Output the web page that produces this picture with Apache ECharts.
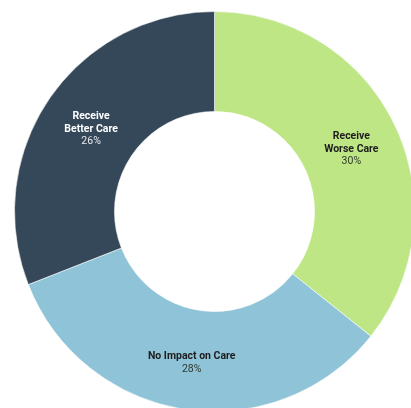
<!DOCTYPE html>
<html>
<head>
<meta charset="utf-8">
<script src="https://cdn.jsdelivr.net/npm/echarts@6/dist/echarts.min.js"></script>
<style>
  html, body { margin: 0; padding: 0; background: #ffffff; }
  #chart { width: 411px; height: 408px; }
</style>
</head>
<body>
<div id="chart"></div>
<script>
// Share of respondents by expected effect on their care
const categories = ['Receive\nWorse Care', 'No Impact on Care', 'Receive\nBetter Care'];
const shares = [30, 28, 26];
const sliceColors = ['#bee685', '#8fc4d8', '#354859'];
const labelDark = [true, true, false];
// small nudges of each label block inside its slice
const labelPadding = [[8, 2, 0, 0], [0, 0, 0, 0], [8, 0, 0, 6]];

const chart = echarts.init(document.getElementById('chart'), null, { renderer: 'canvas' });

const data = categories.map((name, i) => ({
  name: name,
  value: shares[i],
  itemStyle: { color: sliceColors[i] },
  label: {
    padding: labelPadding[i],
    rich: {
      n: { color: labelDark[i] ? '#1e1e1e' : '#ffffff', fontWeight: 'bold', fontSize: 10.5, lineHeight: 12.5, fontFamily: 'Roboto', align: 'center' },
      p: { color: labelDark[i] ? '#2e3a30' : '#e6e9ec', fontSize: 10.5, lineHeight: 12.5, fontFamily: 'Roboto', align: 'center' }
    }
  }
}));

chart.setOption({
  animation: false,
  series: [{
    type: 'pie',
    center: [214.5, 211.5],
    radius: [100, 200],
    startAngle: 90,
    clockwise: true,
    itemStyle: { borderColor: '#ffffff', borderWidth: 0.6 },
    label: {
      show: true,
      position: 'inside',
      formatter: p => '{n|' + p.name.split('\n').join('}\n{n|') + '}\n{p|' + p.value + '%}'
    },
    labelLine: { show: false },
    emphasis: { disabled: true },
    data: data
  }]
});
</script>
</body>
</html>
